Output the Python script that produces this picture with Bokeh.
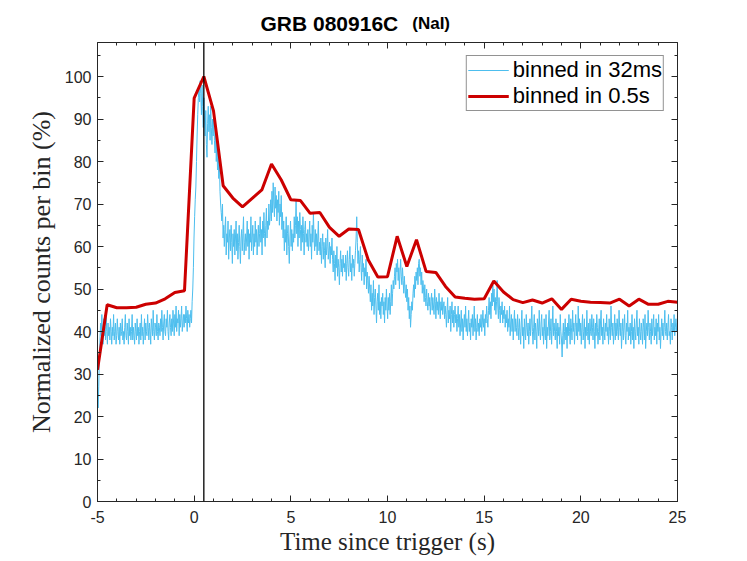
import numpy as np
from bokeh.plotting import figure
from bokeh.models import (Span, Label, Legend, LegendItem, LinearAxis,
                          FixedTicker, Range1d)
from bokeh.embed import file_html
from bokeh.resources import INLINE

# ---------------- data ----------------
t_start = -5.0
bin_fine = 0.032     # 32 ms bins
bin_coarse = 0.5     # 0.5 s bins
trigger_line = 0.5

blue_pre = [
    30, 22, 27, 34, 38, 42, 39, 44, 40, 37, 43, 39, 41, 38, 44, 40, 37, 42, 39, 41,
    38, 43, 40, 37, 41, 39, 44, 38, 40, 42, 37, 39, 43, 40, 38, 41, 37, 42, 39, 40,
    43, 38, 40, 37, 41, 44, 39, 38, 42, 40, 37, 43, 39, 41, 38, 40, 44, 38, 41, 39,
    37, 42, 40, 38, 43, 39, 41, 37, 40, 42, 38, 44, 39, 41, 37, 40, 43, 38, 42, 40,
    39, 44, 41, 38, 42, 40, 37, 43, 41, 39, 45, 40, 38, 42, 41, 39, 44, 40, 38, 42,
    41, 39, 43, 40, 45, 41, 38, 42, 44, 40, 39, 43, 41, 45, 40, 38, 42, 44, 41, 39,
    43, 40, 45, 42, 39, 44, 41, 46, 40, 43, 42, 45, 39, 44, 41, 43, 46, 40, 42, 44,
]
blue_burst = [
    41, 44, 42, 46, 43, 40, 45, 42, 44, 41, 43, 45, 42, 47, 50, 55, 62, 67, 71, 74,
    80, 86, 91, 95, 97, 94, 99, 96, 91, 98, 93, 88, 95, 90, 86, 92, 84, 81, 89, 93,
    87, 91, 85, 93, 88, 84, 90, 86, 92, 85, 82, 88, 80, 85, 78, 83, 76, 80, 73, 70,
]
blue_decay = [
    68, 66, 70, 62, 65, 60, 64, 67, 58, 63, 61, 66, 57, 62, 64, 59, 65, 61, 56, 63,
    60, 64, 58, 62, 66, 59, 63, 57, 61, 65, 60, 56, 62, 64, 59, 63, 67, 58, 61, 63,
    59, 62, 66, 60, 64, 57, 63, 61, 67, 59, 62, 65, 58, 63, 60, 66, 61, 64, 58, 62,
    65, 60, 63, 67, 61, 64, 58, 66, 62, 68, 63, 60, 65, 69, 62, 66, 64, 70, 65, 67,
    71, 66, 73, 68, 75, 70, 67, 74, 69, 72, 66, 71, 68, 73, 65, 70, 67, 72, 64, 68,
    62, 66, 59, 64, 61, 67, 58, 63, 65, 60, 56, 62, 66, 60, 64, 59, 63, 61, 67, 62,
    65, 71, 63, 67, 60, 66, 62, 68, 64, 59, 65, 61, 67, 63, 58, 64, 66, 61, 63, 60,
    64, 59, 62, 66, 60, 63, 57, 65, 61, 68, 62, 59, 64, 60, 63, 58, 62, 66, 59, 61,
    58, 62, 56, 60, 63, 57, 61, 59, 55, 62, 58, 60, 64, 57, 59, 61, 56, 60, 58, 62,
]
blue_mid = [
    57, 54, 59, 56, 52, 58, 55, 60, 53, 57, 55, 51, 56, 59, 54, 57, 53, 58, 55, 56,
    54, 58, 52, 56, 59, 55, 53, 57, 60, 54, 56, 52, 58, 55, 57, 53, 56, 59, 62, 67,
    61, 56, 59, 54, 57, 60, 55, 52, 58, 54, 56, 51, 55, 53, 57, 50, 54, 52, 49, 53,
    50, 47, 51, 45, 49, 46, 52, 44, 48, 50, 46, 42, 47, 49, 45, 51, 44, 47, 43, 48,
    46, 49, 44, 47, 42, 48, 45, 50, 46, 43, 48, 45, 49, 44, 47, 51, 46, 49, 52, 50,
    53, 55, 51, 56, 54, 57, 52, 55, 50, 54, 57, 53, 51, 55, 52, 49, 53, 50, 48, 51,
    47, 50, 45, 48, 43, 46, 41, 44, 47, 45, 49, 51, 48, 53, 50, 54, 52, 55, 51, 56,
    57, 53, 55, 51, 54, 49, 52, 50, 47, 51, 48, 46, 50, 47, 45, 49, 46, 48, 44, 47,
    49, 45, 48, 46, 44, 50, 47, 43, 48, 45, 47, 44, 49, 46, 43, 47, 45, 48, 44, 46,
]
blue_tail1 = [
    47, 43, 46, 44, 41, 45, 48, 42, 45, 43, 46, 40, 44, 47, 42, 45, 41, 44, 46, 42,
    44, 40, 43, 46, 41, 44, 39, 42, 45, 40, 43, 38, 42, 44, 41, 46, 40, 43, 39, 42,
    45, 40, 42, 38, 43, 41, 44, 39, 42, 46, 40, 43, 38, 41, 44, 40, 42, 39, 43, 41,
    44, 40, 42, 45, 41, 43, 39, 44, 42, 46, 43, 41, 45, 48, 44, 47, 43, 49, 46, 51,
    47, 50, 45, 48, 44, 47, 52, 46, 43, 48, 45, 42, 46, 44, 47, 42, 45, 43, 46, 41,
    44, 42, 45, 40, 43, 41, 46, 39, 42, 44, 40, 43, 38, 42, 45, 40, 43, 41, 39, 44,
]
blue_tail2 = [
    41, 38, 43, 40, 37, 42, 45, 39, 41, 36, 43, 40, 38, 44, 41, 39, 42, 37, 40, 43,
    39, 42, 46, 40, 37, 41, 44, 38, 42, 40, 36, 43, 41, 39, 45, 40, 38, 42, 44, 39,
    41, 37, 43, 40, 38, 44, 36, 41, 39, 42, 45, 38, 40, 43, 37, 41, 46, 39, 42, 40,
    38, 43, 40, 36, 42, 39, 41, 37, 44, 40, 38, 34, 39, 42, 37, 40, 43, 38, 41, 36,
    42, 39, 44, 40, 37, 43, 41, 38, 45, 40, 42, 37, 41, 44, 39, 42, 38, 46, 40, 43,
    39, 42, 37, 41, 44, 38, 40, 43, 36, 41, 39, 45, 40, 38, 42, 37, 43, 40, 39, 44,
    41, 38, 43, 40, 36, 42, 39, 44, 41, 37, 40, 43, 38, 42, 45, 39, 41, 37, 43, 40,
    38, 42, 40, 44, 39, 41, 37, 43, 40, 38, 46, 41, 39, 42, 37, 40, 44, 38, 42, 39,
    43, 40, 38, 45, 41, 39, 42, 36, 40, 43, 38, 41, 44, 39, 37, 42, 40, 45, 38, 41,
    39, 42, 37, 40, 44, 38, 41, 36, 43, 40, 38, 42, 45, 39, 41, 37, 43, 40, 38, 42,
    40, 37, 43, 41, 38, 44, 36, 40, 42, 39, 45, 41, 38, 42, 40, 37, 43, 39, 41, 44,
    38, 41, 39, 43, 37, 42, 40, 44, 38, 41, 36, 40, 43, 39, 42, 38, 41, 45, 40, 39,
    42, 38, 41, 44, 39, 40, 37, 43, 41, 38, 42, 40, 44, 39, 41, 43, 40, 42,
]

red_vals = [
    31.0, 46.3, 45.6, 45.6, 45.7, 46.4, 46.7, 47.7, 49.2, 49.6,
    94.9, 100.0, 91.9, 74.3, 71.4, 69.3, 71.3, 73.3, 79.4, 75.7,
    71.0, 70.8, 67.8, 68.0, 64.5, 62.4, 64.1, 64.0, 56.9, 52.8,
    52.9, 62.4, 55.3, 61.6, 54.1, 53.9, 50.6, 48.1, 47.8, 47.6,
    47.7, 51.9, 49.3, 47.5, 46.8, 47.4, 46.7, 47.7, 45.2, 47.6,
    47.1, 46.9, 46.8, 46.7, 47.6, 46.0, 47.6, 46.4, 46.4, 47.1,
    46.9,
]

x_major = [-5, 0, 5, 10, 15, 20, 25]
x_minor = list(range(-5, 26))
y_major = [0, 10, 20, 30, 40, 50, 60, 70, 80, 90, 100]
y_minor = list(range(0, 110, 5))

title_main = "GRB 080916C"
title_sub = "(NaI)"
x_label = "Time since trigger (s)"
y_label = "Normalized counts per bin (%)"
legend_labels = ["binned in 32ms", "binned in 0.5s"]

blue_vals = blue_pre + blue_burst + blue_decay + blue_mid + blue_tail1 + blue_tail2
blue_t = t_start + bin_fine * np.arange(len(blue_vals))
red_t = t_start + bin_coarse * np.arange(len(red_vals))

# ---------------- styling ----------------
AX = "#262626"
BLUE = "#4DBEEE"
RED = "#CC0000"

p = figure(frame_width=580, frame_height=459,
           x_range=Range1d(-5, 25), y_range=Range1d(0, 108),
           output_backend="svg", toolbar_location=None,
           min_border_left=97, min_border_right=61,
           min_border_top=41, min_border_bottom=10,
           x_axis_label=x_label, y_axis_label=y_label)
p.outline_line_color = None
p.xgrid.visible = False
p.ygrid.visible = False
p.background_fill_color = "white"
p.border_fill_color = "white"


def style_axis(ax, major, minor, show_labels=True):
    ax.ticker = FixedTicker(ticks=major, minor_ticks=minor)
    ax.axis_line_color = AX
    ax.axis_line_width = 1
    ax.major_tick_in = 6
    ax.major_tick_out = 0
    ax.minor_tick_in = 3
    ax.minor_tick_out = 0
    ax.major_tick_line_color = AX
    ax.minor_tick_line_color = AX
    ax.major_label_text_font = "Liberation Sans"
    ax.major_label_text_font_size = "16px"
    ax.major_label_text_color = AX
    ax.axis_label_text_font = "Liberation Serif"
    ax.axis_label_text_font_style = "normal"
    ax.axis_label_text_color = AX
    if not show_labels:
        ax.major_label_overrides = {t: "" for t in major}
        ax.major_label_standoff = 0


style_axis(p.xaxis[0], x_major, x_minor)
style_axis(p.yaxis[0], y_major, y_minor)
p.xaxis[0].major_label_overrides = {-5: "-5"}
p.xaxis[0].major_label_standoff = 9
p.xaxis[0].axis_label_standoff = 2
p.xaxis[0].axis_label_text_font_size = "25px"
p.yaxis[0].major_label_standoff = 6
p.yaxis[0].axis_label_standoff = 6
p.yaxis[0].axis_label_text_font_size = "26px"

top_ax = LinearAxis()
style_axis(top_ax, x_major, x_minor, show_labels=False)
p.add_layout(top_ax, "above")
right_ax = LinearAxis()
style_axis(right_ax, y_major, y_minor, show_labels=False)
p.add_layout(right_ax, "right")

r_blue = p.line(blue_t, blue_vals, line_color=BLUE, line_width=1)
r_red = p.line(red_t, red_vals, line_color=RED, line_width=3)

p.add_layout(Span(location=trigger_line, dimension="height",
                  line_color="black", line_width=1.3))

legend = Legend(items=[LegendItem(label=legend_labels[0], renderers=[r_blue]),
                       LegendItem(label=legend_labels[1], renderers=[r_red])],
                location="top_right", margin=13, padding=1, spacing=0,
                label_text_font="Liberation Sans", label_text_font_size="22px",
                label_text_color="black", label_height=18, glyph_height=18,
                glyph_width=41, label_standoff=4,
                border_line_color=AX, border_line_width=1,
                background_fill_color="white", background_fill_alpha=1)
p.add_layout(legend)

p.add_layout(Label(x=3.43, y=112.5, text=title_main, text_font="Liberation Sans",
                   text_font_style="bold", text_font_size="21px",
                   text_color="black", text_align="left",
                   text_baseline="alphabetic"), "above")
p.add_layout(Label(x=11.28, y=112.5, text=title_sub, text_font="Liberation Sans",
                   text_font_style="bold", text_font_size="17px",
                   text_color="black", text_align="left",
                   text_baseline="alphabetic"), "above")

open("out.html", "w").write(file_html(p, INLINE))
